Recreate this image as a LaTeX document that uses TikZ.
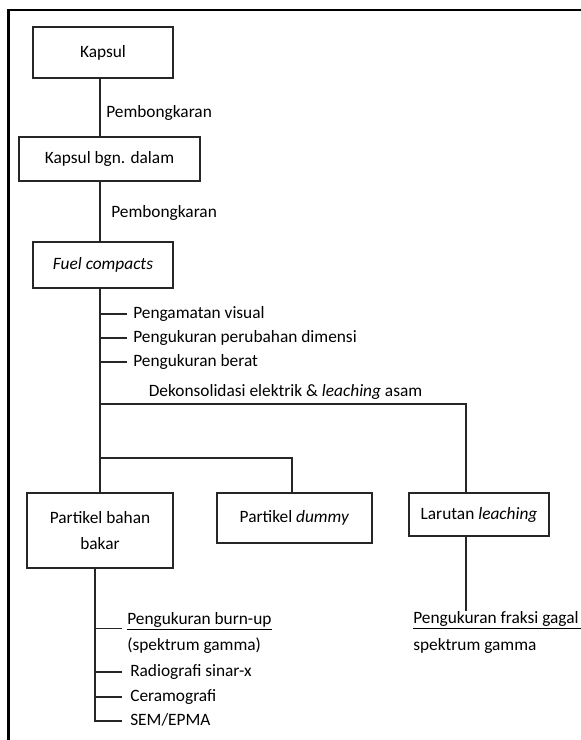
\documentclass[tikz,border=0pt]{standalone}
\usepackage{fontspec}
\setmainfont{Carlito}
\usetikzlibrary{positioning,calc}
\definecolor{PieDark}{HTML}{262626}
\tikzset{
  procbox/.style={draw=PieDark,line width=0.9pt,align=center,inner sep=2pt,font=\fontsize{13}{20}\selectfont},
  tapline/.style={line width=0.8pt,draw=PieDark},
  steptext/.style={anchor=west,inner sep=0pt,text height=9pt,text depth=3pt,font=\fontsize{13}{15}\selectfont},
  framerule/.style={line width=2.2pt,draw=black}
}

\begin{document}
\begin{tikzpicture}[x=0.75pt,y=-0.75pt]
\useasboundingbox (0,0) rectangle (581,740);
\draw[framerule] (8.5,740) -- (8.5,10) -- (581,10);

% columns of the vertical lines
\coordinate (tk) at (100,0);
\coordinate (bcol) at (95,0);
\coordinate (dcol) at (292,0);
\coordinate (lcol) at (466,0);

% boxes
\node[procbox,minimum width=105pt,minimum height=38.25pt] (kapsul) at (103,52.5) {Kapsul};
\node[procbox,minimum width=135.75pt,minimum height=33pt] (bgn) at (109.5,159) {Kapsul bgn. dalam};
\node[procbox,minimum width=105pt,minimum height=34.5pt] (fuel) at (103,265) {\textit{Fuel compacts}};
\node[procbox,minimum width=109.5pt,minimum height=56.25pt] (bahan) at (100,530.5) {Partikel bahan\\bakar};
\node[procbox,minimum width=116.25pt,minimum height=37.5pt] (dummy) at (294.5,518) {Partikel \textit{dummy}};
\node[procbox,minimum width=105pt,minimum height=32.25pt] (larutan) at (479,514.5) {Larutan \textit{leaching}};

% opening steps
\node[steptext] (buka1) at (106,113) {Pembongkaran};
\node[steptext] (buka2) at (111,213) {Pembongkaran};
\draw[tapline] (kapsul.south -| tk) -- (bgn.north -| tk);
\draw[tapline] (bgn.south -| tk) -- (fuel.north -| tk);

% tests on the compacts
\draw[tapline] (fuel.south -| tk) -- (bahan.north -| tk);
\foreach \y/\t [count=\i] in {314/Pengamatan visual,338/Pengukuran perubahan dimensi,362/Pengukuran berat}{
  \node[steptext] (uji\i) at (133,\y) {\t};
  \draw[tapline,shorten >=4.5pt] (uji\i.west -| tk) -- (uji\i.west);
}
\node[steptext,anchor=center] (dekon) at (285.5,392) {Dekonsolidasi elektrik \& \textit{leaching} asam};
\coordinate (pisahA) at (100,404);
\coordinate (pisahB) at (100,458);
\draw[tapline] (pisahA) -| (larutan.north -| lcol);
\draw[tapline] (pisahB) -| (dummy.north -| dcol);

% tests on the fuel particles
\node[steptext] (burnup) at (127,620) {\underline{Pengukuran burn-up}};
\node[steptext] (burnupb) at (127,646) {(spektrum gamma)};
\node[steptext] (radio) at (130,672) {Radiografi sinar-x};
\node[steptext] (cera) at (130,697) {Ceramografi};
\node[steptext] (sem) at (130,721) {SEM/EPMA};
\draw[tapline,shorten >=6pt] (bahan.south -| bcol) |- (sem.west);
\draw[tapline,shorten >=3.75pt] (burnup.south west -| bcol) -- (burnup.south west);
\foreach \n in {radio,cera}{
  \draw[tapline,shorten >=6pt] (\n.west -| bcol) -- (\n.west);
}

% leaching solution
\node[steptext] (fraksi) at (413,619) {\underline{Pengukuran fraksi gagal\ }};
\node[steptext] (fraksib) at (413,646) {spektrum gamma};
\draw[tapline] (larutan.south -| lcol) -- (fraksi.north -| lcol);
\end{tikzpicture}
\end{document}
